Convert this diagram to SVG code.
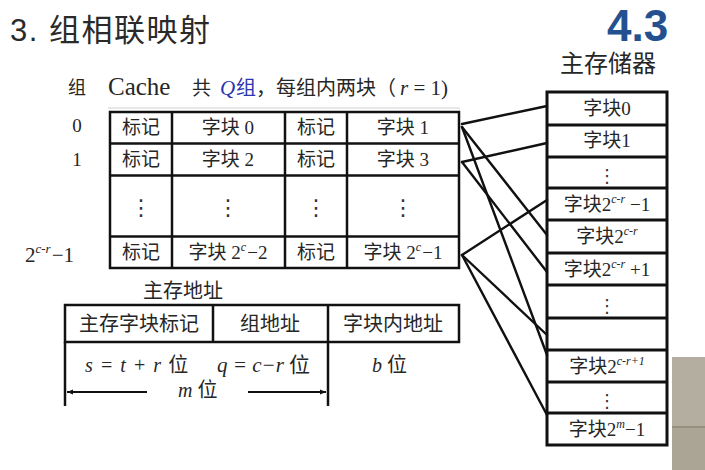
<svg xmlns="http://www.w3.org/2000/svg" width="705" height="470" viewBox="0 0 705 470">
<style>
.t{font-family:"Liberation Serif","Noto Sans CJK SC",serif;font-size:19px;fill:#262626}
.c{text-anchor:middle}
.i{font-style:italic}
.sup{font-size:12px;font-style:italic}
.dots{font-family:"DejaVu Sans",sans-serif;font-size:22px;fill:#333;text-anchor:middle}
.box{fill:#fff;stroke:#111;stroke-width:2.5}
.ln{stroke:#111;stroke-width:2.5;fill:none}
.cn{stroke:#111;stroke-width:2.4;fill:none;stroke-linecap:round}
</style>
<defs>
<marker id="ah" viewBox="0 0 10 10" refX="10" refY="5" markerWidth="8" markerHeight="6" orient="auto-start-reverse" markerUnits="userSpaceOnUse">
<path d="M0,1 L10,5 L0,9 z" fill="#111"/>
</marker>
</defs>
<rect width="705" height="470" fill="#fff"/>

<g id="title">
<text x="10" y="41" style="font-family:'Liberation Sans','Noto Sans CJK SC',sans-serif;font-size:31px;letter-spacing:1.5px;fill:#2a2a2a">3. 组相联映射</text>
<text x="607" y="41" style="font-family:'Liberation Sans',sans-serif;font-size:44px;font-weight:bold;fill:#24508f">4.3</text>
</g>

<g id="cache-header">
<text class="t" x="68" y="94" style="font-size:18px">组</text>
<text class="t" x="108" y="95" style="font-size:25px">Cache</text>
<text class="t" x="192" y="95" style="font-size:19px">共</text>
<text class="t i" x="220" y="95" style="font-size:21px;fill:#2b35b0">Q</text>
<text class="t" x="236" y="95" style="font-size:20px"><tspan style="fill:#2b35b0">组</tspan>，每组内两块（</text>
<text class="t" x="400" y="95" style="font-size:21px"><tspan class="i">r</tspan> = 1)</text>
<line x1="108" y1="108" x2="460" y2="108" stroke="#d0d0d0" stroke-width="1"/>
</g>

<g id="row-labels">
<text class="t c" x="77" y="132">0</text>
<text class="t c" x="77" y="166">1</text>
<text class="t" x="25" y="262" style="font-size:21px">2<tspan class="sup" dy="-9" style="font-size:13px">c-r</tspan><tspan dy="9" dx="1">−1</tspan></text>
</g>

<g id="cache">
<rect class="box" x="110" y="112" width="349" height="156"/>
<line class="ln" x1="110" y1="143.5" x2="459" y2="143.5"/>
<line class="ln" x1="110" y1="175.5" x2="459" y2="175.5"/>
<line class="ln" x1="110" y1="236.5" x2="459" y2="236.5"/>
<line class="ln" x1="172" y1="112" x2="172" y2="268"/>
<line class="ln" x1="285" y1="112" x2="285" y2="268"/>
<line class="ln" x1="347" y1="112" x2="347" y2="268"/>
<text class="t c" x="141" y="134">标记</text>
<text class="t c" x="228" y="134">字块 0</text>
<text class="t c" x="316" y="134">标记</text>
<text class="t c" x="403" y="134">字块 1</text>
<text class="t c" x="141" y="166">标记</text>
<text class="t c" x="228" y="166">字块 2</text>
<text class="t c" x="316" y="166">标记</text>
<text class="t c" x="403" y="166">字块 3</text>
<text class="dots" x="141" y="215">⋮</text>
<text class="dots" x="228" y="215">⋮</text>
<text class="dots" x="316" y="215">⋮</text>
<text class="dots" x="403" y="215">⋮</text>
<text class="t c" x="141" y="259">标记</text>
<text class="t c" x="228" y="259">字块 2<tspan class="sup" dy="-8">c</tspan><tspan dy="8" dx="1">−2</tspan></text>
<text class="t c" x="316" y="259">标记</text>
<text class="t c" x="403" y="259">字块 2<tspan class="sup" dy="-8">c</tspan><tspan dy="8" dx="1">−1</tspan></text>
</g>

<g id="main-memory">
<text class="t" x="560" y="72" style="font-size:24px">主存储器</text>
<rect class="box" x="547" y="92" width="120" height="353" style="stroke-width:3"/>
<g class="ln" style="stroke-width:3">
<line x1="547" y1="125" x2="667" y2="125"/>
<line x1="547" y1="157" x2="667" y2="157"/>
<line x1="547" y1="188" x2="667" y2="188"/>
<line x1="547" y1="220" x2="667" y2="220"/>
<line x1="547" y1="253" x2="667" y2="253"/>
<line x1="547" y1="285" x2="667" y2="285"/>
<line x1="547" y1="318" x2="667" y2="318"/>
<line x1="547" y1="350" x2="667" y2="350"/>
<line x1="547" y1="382" x2="667" y2="382"/>
<line x1="547" y1="413" x2="667" y2="413"/>
</g>
<text class="t c" x="607" y="115">字块0</text>
<text class="t c" x="607" y="147">字块1</text>
<text class="dots" x="607" y="182" style="font-size:18px">⋮</text>
<text class="t c" x="607" y="211">字块2<tspan class="sup" dy="-8">c-r</tspan><tspan dy="8"> −1</tspan></text>
<text class="t c" x="607" y="243">字块2<tspan class="sup" dy="-8">c-r</tspan></text>
<text class="t c" x="607" y="276">字块2<tspan class="sup" dy="-8">c-r</tspan><tspan dy="8"> +1</tspan></text>
<text class="dots" x="607" y="312" style="font-size:18px">⋮</text>
<text class="t c" x="607" y="373">字块2<tspan class="sup" dy="-8">c-r+1</tspan></text>
<text class="dots" x="607" y="407" style="font-size:18px">⋮</text>
<text class="t c" x="607" y="436">字块2<tspan class="sup" dy="-8">m</tspan><tspan dy="8">−1</tspan></text>
</g>

<g id="connectors">
<line class="cn" x1="462" y1="124" x2="547" y2="106"/>
<line class="cn" x1="462" y1="127" x2="547" y2="235"/>
<line class="cn" x1="462" y1="127" x2="547" y2="355"/>
<line class="cn" x1="462" y1="162" x2="547" y2="143"/>
<line class="cn" x1="462" y1="162" x2="547" y2="272"/>
<line class="cn" x1="462" y1="255" x2="547" y2="200"/>
<line class="cn" x1="462" y1="255" x2="547" y2="335"/>
<line class="cn" x1="462" y1="255" x2="547" y2="415"/>
</g>

<g id="address">
<text class="t" x="143" y="298" style="font-size:20px">主存地址</text>
<rect class="box" x="65" y="305" width="394" height="37"/>
<line class="ln" x1="213" y1="305" x2="213" y2="342"/>
<line class="ln" x1="328" y1="305" x2="328" y2="342"/>
<text class="t c" x="139" y="331" style="font-size:20px">主存字块标记</text>
<text class="t c" x="270" y="331" style="font-size:20px">组地址</text>
<text class="t c" x="393" y="331" style="font-size:20px">字块内地址</text>
<line class="ln" x1="65" y1="342" x2="65" y2="406"/>
<line class="ln" x1="328" y1="342" x2="328" y2="406"/>
<text class="t i" x="85" y="372" style="font-size:20px;word-spacing:2px">s = t + r  <tspan style="font-style:normal">位</tspan></text>
<text class="t i" x="217" y="372" style="font-size:21px">q = c−r <tspan style="font-style:normal">位</tspan></text>
<text class="t i" x="372" y="372" style="font-size:20px">b <tspan style="font-style:normal">位</tspan></text>
<text class="t i" x="178" y="397" style="font-size:20px">m <tspan style="font-style:normal">位</tspan></text>
<line x1="147" y1="392" x2="67" y2="392" stroke="#111" stroke-width="2" marker-end="url(#ah)"/>
<line x1="248" y1="392" x2="326" y2="392" stroke="#111" stroke-width="2" marker-end="url(#ah)"/>
</g>

<g id="photo-corner">
<rect x="672" y="357" width="33" height="113" fill="#aaa595"/>
<rect x="672" y="357" width="33" height="70" fill="#b3ae9f"/>
<line x1="672" y1="427" x2="705" y2="427" stroke="#8c887a" stroke-width="1.5"/>
</g>
</svg>
